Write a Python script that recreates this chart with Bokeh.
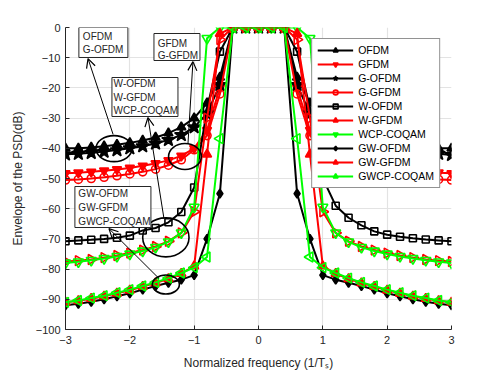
from bokeh.plotting import figure
from bokeh.models import Label, Arrow, OpenHead, BoxAnnotation, FixedTicker, Range1d
from bokeh.embed import file_html
from bokeh.resources import INLINE
import math

freq = [-3.0, -2.8, -2.6, -2.4, -2.2, -2.0, -1.8, -1.6, -1.4, -1.2, -1.0, -0.8, -0.6, -0.4, -0.2, 0.0,
        0.2, 0.4, 0.6, 0.8, 1.0, 1.2, 1.4, 1.6, 1.8, 2.0, 2.2, 2.4, 2.6, 2.8, 3.0]

ofdm = [-40.0, -40.0, -39.7, -39.3, -38.8, -38.2, -37.4, -36.4, -35.0, -33.0, -30.0, -25.0, -16.5, 0, 0, 0,
        0, 0, -16.5, -25.0, -30.0, -33.0, -35.0, -36.4, -37.4, -38.2, -38.8, -39.3, -39.7, -40.0, -40.0]
g_ofdm = [-42.0, -41.8, -41.5, -41.1, -40.6, -40.0, -39.3, -38.4, -37.2, -35.6, -33.0, -28.5, -19.0, 0, 0, 0,
          0, 0, -19.0, -28.5, -33.0, -35.6, -37.2, -38.4, -39.3, -40.0, -40.6, -41.1, -41.5, -41.8, -42.2]
gfdm = [-48.3, -48.1, -47.8, -47.4, -47.0, -46.5, -45.8, -45.0, -44.0, -42.5, -40.0, -34.0, -20.0, 0, 0, 0,
        0, 0, -20.0, -34.0, -40.0, -42.5, -44.0, -45.0, -45.8, -46.5, -47.0, -47.4, -47.8, -48.1, -48.3]
g_gfdm = [-50.5, -50.3, -50.0, -49.6, -49.1, -48.5, -47.8, -46.9, -45.6, -43.8, -40.5, -35.8, -22.0, 0, 0, 0,
          0, 0, -22.0, -35.8, -40.5, -43.8, -45.6, -46.9, -47.8, -48.5, -49.1, -49.6, -50.0, -50.3, -50.5]
w_ofdm = [-70.8, -70.5, -70.3, -70.0, -69.6, -68.9, -67.2, -66.4, -64.5, -61.1, -53.0, -27.0, -8.0, 0, 0, 0,
          0, 0, -8.0, -27.0, -50.0, -59.0, -63.0, -65.5, -67.5, -68.6, -69.3, -69.8, -70.2, -70.5, -70.8]
w_gfdm = [-77.5, -77.2, -76.8, -76.2, -75.5, -74.7, -73.7, -72.5, -70.8, -68.0, -61.0, -30.0, -4.0, 0, 0, 0,
          0, 0, -4.0, -30.0, -61.0, -68.0, -70.8, -72.5, -73.7, -74.7, -75.5, -76.2, -76.8, -77.2, -77.5]
wcp_coqam = [-78.0, -77.6, -77.1, -76.5, -75.8, -75.0, -74.0, -72.8, -71.0, -68.0, -59.5, -3.6, 0, 0, 0, 0,
             0, 0, 0, -3.6, -59.5, -68.0, -71.0, -72.8, -74.0, -75.0, -75.8, -76.5, -77.1, -77.6, -78.0]
gw_ofdm = [-92.0, -91.5, -90.8, -90.0, -89.0, -88.0, -86.8, -85.6, -84.5, -83.5, -82.0, -70.0, -55.0, 0, 0, 0,
           0, 0, -55.0, -70.0, -82.0, -83.5, -84.5, -85.6, -86.8, -88.0, -89.0, -90.0, -90.8, -91.5, -92.0]
gw_gfdm = [-91.0, -90.5, -89.8, -89.0, -88.0, -87.0, -85.8, -84.6, -83.2, -81.5, -79.0, -42.0, -2.0, 0, 0, 0,
           0, 0, -2.0, -42.0, -79.0, -81.5, -83.2, -84.6, -85.8, -87.0, -88.0, -89.0, -89.8, -90.5, -91.0]
gwcp_coqam = [-91.0, -90.4, -89.6, -88.8, -87.8, -86.8, -85.6, -84.4, -83.0, -81.3, -79.5, -76.0, -36.8, 0, 0, 0,
              0, 0, -36.8, -76.0, -79.5, -81.3, -83.0, -84.4, -85.6, -86.8, -87.8, -88.8, -89.6, -90.4, -91.0]

series_names = ["OFDM", "GFDM", "G-OFDM", "G-GFDM", "W-OFDM", "W-GFDM", "WCP-COQAM",
                "GW-OFDM", "GW-GFDM", "GWCP-COQAM"]
series_values = [ofdm, gfdm, g_ofdm, g_gfdm, w_ofdm, w_gfdm, wcp_coqam, gw_ofdm, gw_gfdm, gwcp_coqam]

x_ticks = [-3, -2, -1, 0, 1, 2, 3]
y_ticks = [-100, -90, -80, -70, -60, -50, -40, -30, -20, -10, 0]

BLACK = "#000000"
RED = "#ff0000"
GREEN = "#00ff00"
styles = [
    (BLACK, "triangle", 9, BLACK, 0.0),
    (RED, "inverted_triangle", 9, RED, 0.0),
    (BLACK, "star", 14, BLACK, 0.0),
    (RED, "circle", 8, None, 0.0),
    (BLACK, "square", 7, None, 0.0),
    (RED, "triangle", 10, None, -math.pi / 2),
    (GREEN, "inverted_triangle", 10, None, 0.0),
    (BLACK, "diamond", 9, BLACK, 0.0),
    (RED, "triangle", 9, RED, 0.0),
    (GREEN, "triangle", 10, None, math.pi / 2),
]

p = figure(frame_width=386, frame_height=302, min_border_left=65, min_border_top=27,
           min_border_right=20, min_border_bottom=5,
           x_range=Range1d(-3, 3), y_range=Range1d(-100, 0),
           output_backend="svg", toolbar_location=None)
p.outline_line_color = None
p.background_fill_color = "white"

for name, vals, (col, mk, sz, fill, ang) in zip(series_names, series_values, styles):
    p.line(freq, vals, line_color=col, line_width=2, legend_label=name)
    p.scatter(freq, vals, marker=mk, size=sz, line_color=col, fill_color=fill,
              line_width=1.6, angle=ang, legend_label=name)

# ellipses
p.ellipse(x=[-2.246, -1.143, -1.44, -1.44], y=[-40.1, -42.7, -69.5, -85.1],
          width=[0.56, 0.51, 0.72, 0.42], height=[8.6, 8.6, 12.9, 6.3],
          fill_color=None, line_color="black", line_width=1.6)

# annotation boxes
boxes = [(-2.792, -2.030, 0.0, -9.93), (-1.625, -0.910, -1.99, -10.93),
         (-2.278, -1.252, -16.56, -29.47), (-2.854, -1.672, -52.65, -66.23)]
for l, r, t, b in boxes:
    p.add_layout(BoxAnnotation(left=l, right=r, top=t, bottom=b, fill_color="white", fill_alpha=1,
                               line_color="#262626", line_width=1, line_alpha=1))

box_texts = [
    (-2.73, [("OFDM", -3.0), ("G-OFDM", -7.3)]),
    (-1.568, [("GFDM", -5.2), ("G-GFDM", -9.3)]),
    (-2.252, [("W-OFDM", -18.4), ("W-GFDM", -23.1), ("WCP-COQAM", -27.5)]),
    (-2.80, [("GW-OFDM", -55.1), ("GW-GFDM", -59.7), ("GWCP-COQAM", -64.1)]),
]
for xl, lines in box_texts:
    for txt, yy in lines:
        p.add_layout(Label(x=xl, y=yy, text=txt, text_font="Liberation Sans", text_font_size="10px",
                           text_color="#262626", text_baseline="middle", text_align="left"))

arrows = [(-2.26, -35.4, -2.65, -10.3), (-1.096, -38.4, -1.019, -11.3),
          (-1.47, -63.2, -1.718, -29.8), (-1.547, -83.1, -2.325, -66.6)]
for xs, ys, xe, ye in arrows:
    p.add_layout(Arrow(end=OpenHead(size=9, line_width=1.2, line_color="black"),
                       x_start=xs, y_start=ys, x_end=xe, y_end=ye, line_width=1, line_color="black"))

# axes
for ax in (p.xaxis[0], p.yaxis[0]):
    ax.major_tick_in = 4
    ax.major_tick_out = 0
    ax.minor_tick_line_color = None
    ax.axis_line_color = "#262626"
    ax.major_tick_line_color = "#262626"
    ax.major_label_text_font = "Liberation Sans"
    ax.major_label_text_font_size = "11px"
    ax.major_label_text_color = "#262626"
    ax.axis_label_text_font = "Liberation Sans"
    ax.axis_label_text_font_size = "12px"
    ax.axis_label_text_font_style = "normal"
    ax.axis_label_text_color = "#262626"
p.xaxis.ticker = FixedTicker(ticks=x_ticks)
p.yaxis.ticker = FixedTicker(ticks=y_ticks)
p.xaxis.axis_label = "Normalized frequency (1/T\u209b)"
p.yaxis.axis_label = "Envelope of the PSD(dB)"
p.xaxis.major_label_standoff = 6
p.xaxis.axis_label_standoff = 9
p.yaxis.major_label_standoff = 5
p.yaxis.axis_label_standoff = 8

p.xgrid.ticker = FixedTicker(ticks=x_ticks)
p.ygrid.ticker = FixedTicker(ticks=y_ticks)
p.grid.grid_line_color = "#e3e3e3"
p.grid.grid_line_width = 1.2

lg = p.legend[0]
lg.location = "top_right"
lg.margin = 11
lg.padding = 5
lg.spacing = 2
lg.label_height = 12
lg.glyph_height = 12
lg.glyph_width = 36
lg.label_standoff = 5
lg.label_text_font = "Liberation Sans"
lg.label_text_font_size = "10.5px"
lg.label_text_color = "#000000"
lg.border_line_color = "#262626"
lg.border_line_width = 1
lg.background_fill_alpha = 1

open("out.html", "w").write(file_html(p, INLINE))
